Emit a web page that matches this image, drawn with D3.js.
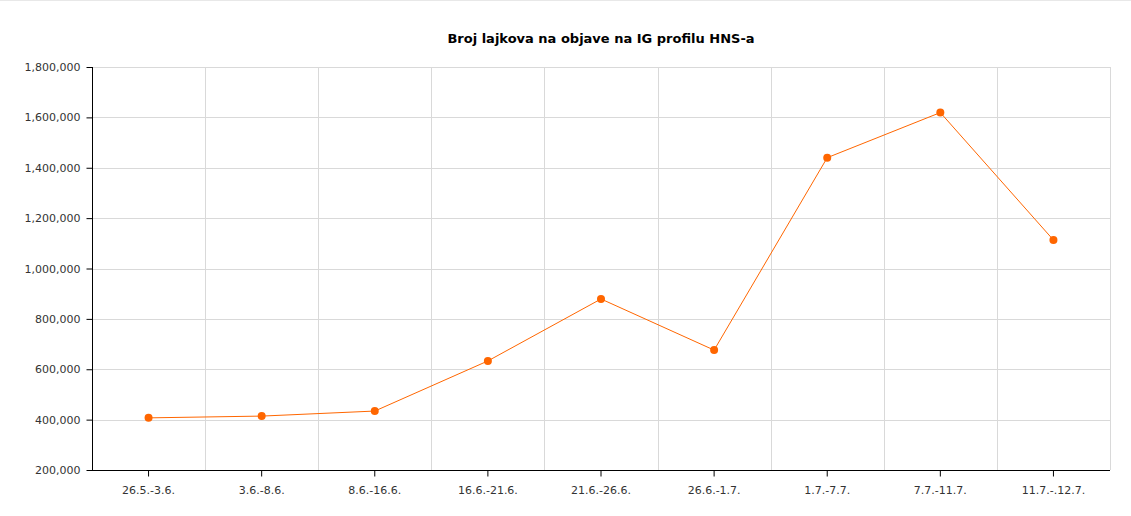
<!DOCTYPE html>
<html>
<head>
<meta charset="utf-8">
<script src="https://cdn.jsdelivr.net/npm/d3@7"></script>
<style>
  body { margin: 0; background: #fff; }
  svg { display: block; font-family: Verdana, "DejaVu Sans", sans-serif; }
</style>
</head>
<body>
<svg id="chart" width="1131" height="516"></svg>
<script>
'use strict';

/* Broj lajkova na objave - line chart */

var title = 'Broj lajkova na objave na IG profilu HNS-a';
var periods = ['26.5.-3.6.', '3.6.-8.6.', '8.6.-16.6.', '16.6.-21.6.', '21.6.-26.6.',
    '26.6.-1.7.', '1.7.-7.7.', '7.7.-11.7.', '11.7.-.12.7.'];
var likes = [407000, 414000, 434000, 633000, 879000, 676000, 1440000, 1619000, 1113000];
var yTicks = [200000, 400000, 600000, 800000, 1000000, 1200000, 1400000, 1600000, 1800000];

var W = 1131, H = 516;
var margin = {top: 67, right: 21, bottom: 46, left: 92};
var svg = d3.select('#chart');

// faint frame line on top
svg.append('line')
    .attr('x1', 0).attr('x2', W).attr('y1', 0.5).attr('y2', 0.5)
    .attr('stroke', '#e8e8e8');

var x = d3.scaleBand().domain(periods).range([margin.left, W - margin.right]).padding(0);
var y = d3.scaleLinear().domain([200000, 1800000]).range([H - margin.bottom, margin.top]);

var g = svg.append('g');

//horizontal grid
g.selectAll('.hgrid').data(yTicks.slice(1)).enter().append('line')
    .attr('x1', margin.left).attr('x2', W - margin.right)
    .attr('y1', function (d) { return Math.round(y(d)) + 0.5; })
    .attr('y2', function (d) { return Math.round(y(d)) + 0.5; })
    .attr('stroke', '#d9d9d9');

//vertical grid at band boundaries
g.selectAll('.vgrid').data(periods).enter().append('line')
    .attr('x1', function (d) { return Math.round(x(d) + x.bandwidth()) + 0.5; })
    .attr('x2', function (d) { return Math.round(x(d) + x.bandwidth()) + 0.5; })
    .attr('y1', margin.top).attr('y2', H - margin.bottom)
    .attr('stroke', '#d9d9d9');

//axes
var yAxis = d3.axisLeft(y).tickValues(yTicks).tickSize(6).tickPadding(6)
    .tickFormat(d3.format(','));
var xAxis = d3.axisBottom(x).tickSize(6).tickPadding(10);

var ya = svg.append('g').attr('transform', 'translate(' + (margin.left + 0.5) + ',0)').call(yAxis);
var xa = svg.append('g').attr('transform', 'translate(0,' + (H - margin.bottom + 0.5) + ')').call(xAxis);

[ya, xa].forEach(function (a) {
    a.select('.domain').attr('stroke', '#000');
    a.selectAll('.tick line').attr('stroke', '#000');
    a.selectAll('.tick text').attr('fill', '#333').style('font-size', '11px')
        .style('font-family', 'Verdana, "DejaVu Sans", sans-serif');
});
ya.select('.domain').attr('d', 'M0,' + margin.top + 'V' + (H - margin.bottom));
xa.select('.domain').attr('d', 'M' + margin.left + ',0H' + (W - margin.right));

//line + points
var color = '#ff6600';
var data = periods.map(function (p, i) { return {p: p, v: likes[i]}; });
var cx = function (d) { return x(d.p) + x.bandwidth() / 2; };

svg.append('path').datum(data)
    .attr('fill', 'none').attr('stroke', color).attr('stroke-width', 1)
    .attr('d', d3.line().x(cx).y(function (d) { return y(d.v); }));

svg.selectAll('.dot').data(data).enter().append('circle')
    .attr('cx', cx).attr('cy', function (d) { return y(d.v); })
    .attr('r', 4).attr('fill', color);

//title
svg.append('text')
    .attr('x', (margin.left + W - margin.right) / 2).attr('y', 43)
    .attr('text-anchor', 'middle')
    .style('font-size', '13px').style('font-weight', 'bold').attr('fill', '#000')
    .text(title);
</script>
</body>
</html>
